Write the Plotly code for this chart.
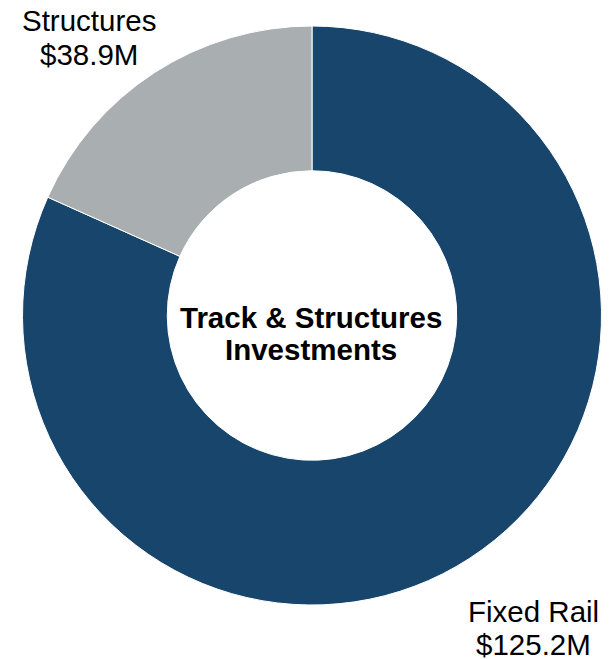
import plotly.graph_objects as go

# Data
categories = ["Fixed Rail", "Structures"]
amount_labels = ["$125.2M", "$38.9M"]
# slice shares as drawn in the picture (percent of the ring)
slice_shares = [81.7, 18.3]
colors = ["#17456B", "#A9AEB0"]
center_title = ["Track & Structures", "Investments"]

W, H = 610, 659
OFF = 8  # page body margin offset

def py(p):
    return 1 - (p - OFF) / H

def px(p):
    return (p - OFF) / W

fig = go.Figure(go.Pie(
    labels=categories,
    values=slice_shares,
    hole=0.5,
    sort=False,
    direction="clockwise",
    rotation=0,
    marker=dict(colors=colors, line=dict(color="white", width=1)),
    textinfo="none",
    hoverinfo="label",
    showlegend=False,
    domain=dict(x=[px(22), px(602)], y=[py(605), py(26)]),
))

font_reg = dict(family="Liberation Sans, Arial, sans-serif", size=29.5, color="#000000")
font_bold = dict(family="Liberation Sans, Arial, sans-serif", size=29.5, color="#000000")

ann = []
# Structures label
ann.append(dict(x=px(89), y=py(21), text=categories[1], font=font_reg))
ann.append(dict(x=px(89), y=py(54), text=amount_labels[1], font=font_reg))
# Fixed Rail label
ann.append(dict(x=px(533), y=py(611), text=categories[0], font=font_reg))
ann.append(dict(x=px(533), y=py(644), text=amount_labels[0], font=font_reg))
# Center title
ann.append(dict(x=px(311), y=py(318), text="<b>" + center_title[0] + "</b>", font=font_bold))
ann.append(dict(x=px(311), y=py(349), text="<b>" + center_title[1] + "</b>", font=font_bold))

for a in ann:
    a.update(xref="paper", yref="paper", showarrow=False, xanchor="center", yanchor="middle")

fig.update_layout(
    width=W, height=H,
    margin=dict(l=0, r=0, t=0, b=0),
    paper_bgcolor="white",
    plot_bgcolor="white",
    annotations=ann,
)

fig.write_html("out.html")
